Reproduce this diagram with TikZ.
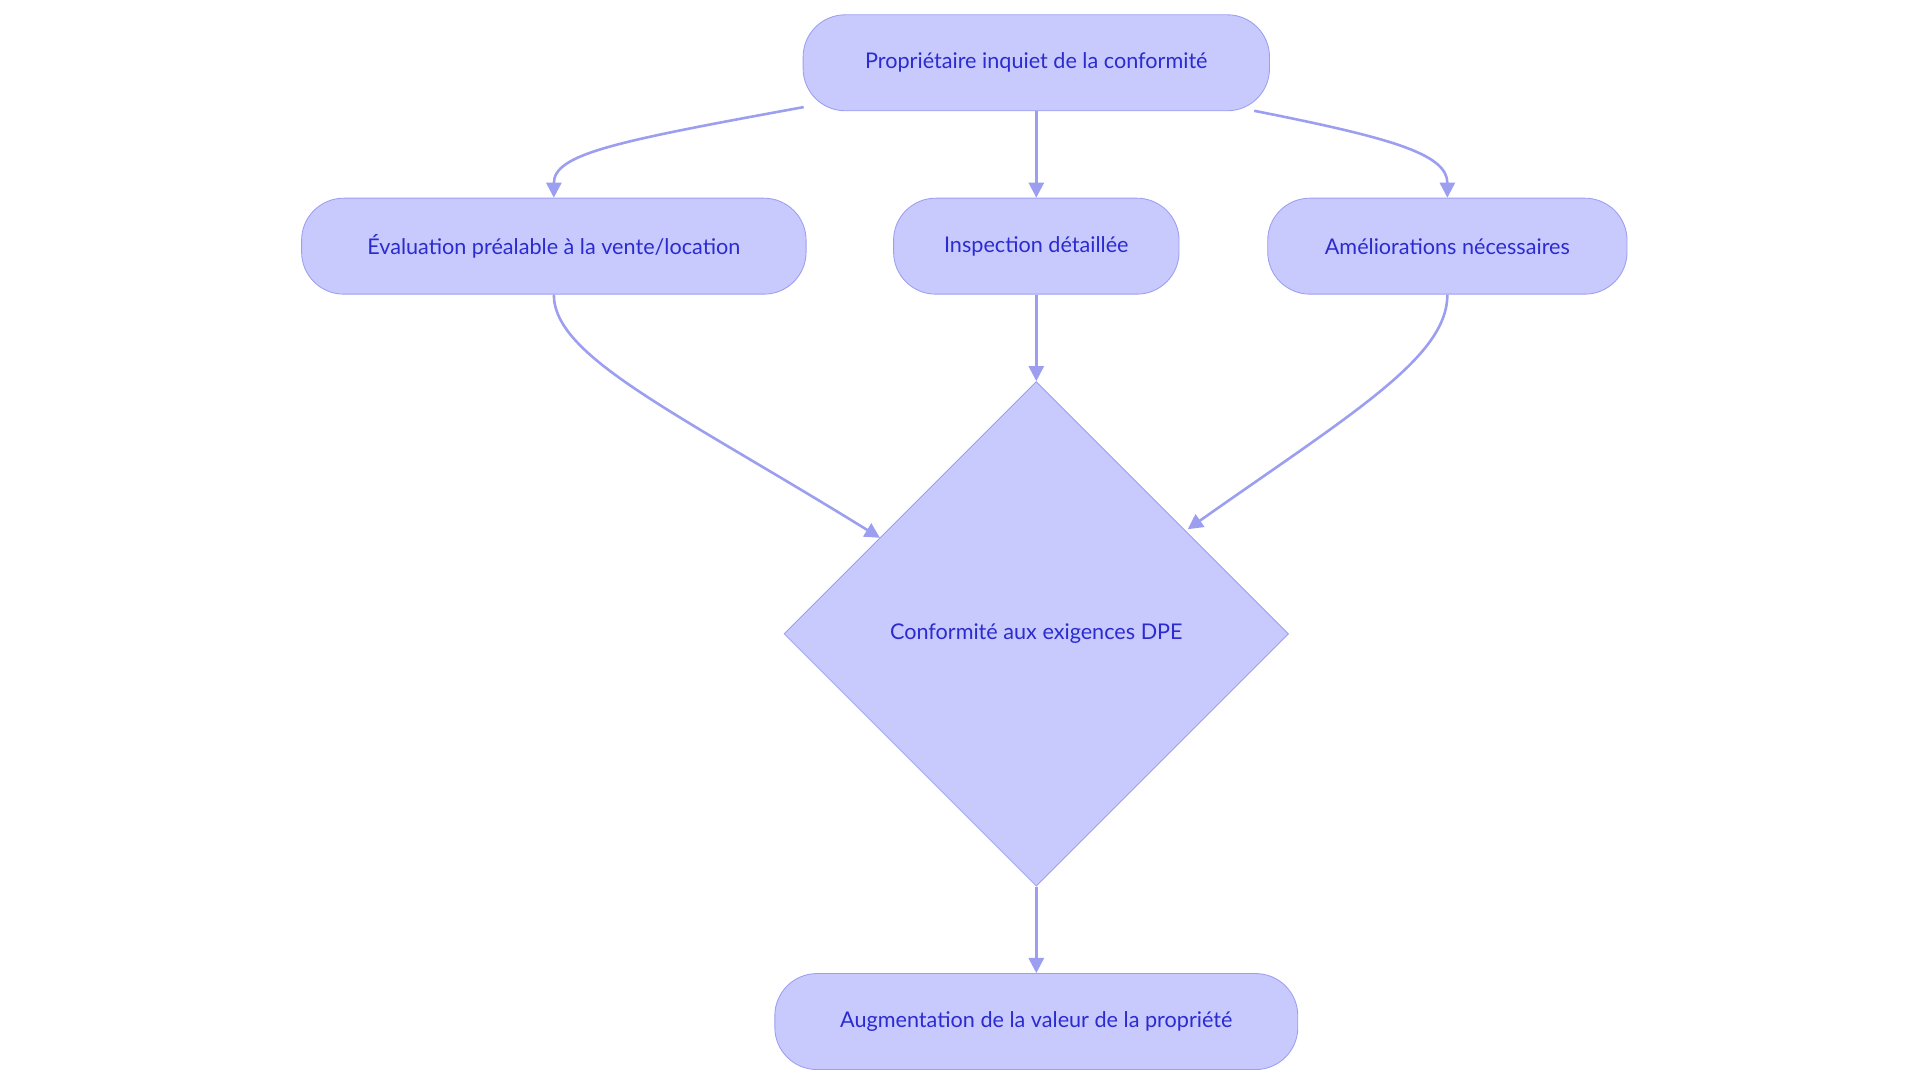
\documentclass[tikz,border=0pt]{standalone}
\usepackage{fontspec}
\setmainfont{Lato}
\usetikzlibrary{shapes.geometric,arrows.meta}
\definecolor{fillc}{HTML}{C8CAFD}
\definecolor{linec}{HTML}{9C9FF0}
\definecolor{textc}{HTML}{2B2BD0}
\tikzset{
 box/.style={draw=linec,fill=fillc,rounded corners=19.5pt,minimum height=1.56cm,inner xsep=0pt,text=textc,font=\fontsize{10}{12}\selectfont},
 dia/.style={draw=linec,fill=fillc,diamond,aspect=1,minimum width=8.2cm,minimum height=8.2cm,inner sep=0pt,text=textc,font=\fontsize{10}{12}\selectfont},
 conn/.style={draw=linec,line width=1.2pt,-{Triangle[length=7pt,width=7pt]}}
}
\begin{document}
\begin{tikzpicture}[x=0.02cm,y=-0.02cm]
\useasboundingbox (0,0) rectangle (1560,880);
\node[box,minimum width=7.58cm] (top) at (842,51) {Propriétaire inquiet de la conformité};
\node[box,minimum width=8.2cm] (ev) at (450,200) {Évaluation préalable à la vente/location};
\node[box,minimum width=4.64cm] (in) at (842,200) {Inspection détaillée};
\node[box,minimum width=5.84cm] (am) at (1176,200) {Améliorations nécessaires};
\node[dia] (d) at (842,515) {Conformité aux exigences DPE};
\node[box,minimum width=8.5cm] (aug) at (842,830) {Augmentation de la valeur de la propriété};
\coordinate (tl) at (653,87);
\coordinate (tr) at (1019,90);
\draw[conn] (tl) .. controls (500,115) and (450,125) .. (ev.north);
\draw[conn] (top.south) -- (in.north);
\draw[conn] (tr) .. controls (1130,112) and (1176,125) .. (am.north);
\draw[conn] (ev.south) .. controls (450,290) and (550,335) .. (715,437);
\draw[conn] (in.south) -- (d.north);
\draw[conn] (am.south) .. controls (1176,290) and (1100,335) .. (965,430);
\draw[conn] (d.south) -- (aug.north);
\end{tikzpicture}
\end{document}
